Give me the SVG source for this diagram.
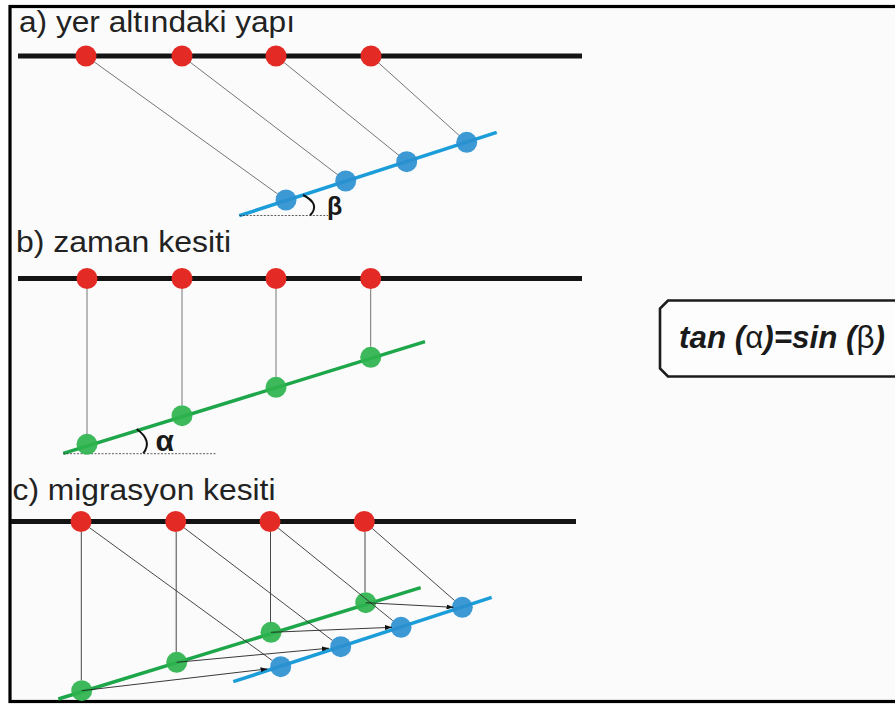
<svg xmlns="http://www.w3.org/2000/svg" width="895" height="704" viewBox="0 0 895 704">
<style>
.title{font-family:"Liberation Sans",Arial,sans-serif;font-size:29px;fill:#222}
.greek{font-family:"Liberation Sans",Arial,sans-serif;font-weight:bold;fill:#1a1a1a}
.ground{stroke:#141414;stroke-width:5;fill:none}
.bl{stroke:#1b9dd9;stroke-width:3.5;fill:none}
.gl{stroke:#1ea64a;stroke-width:3.5;fill:none}
.red{fill:#e42a24}
.blue{fill:#2b90d0;opacity:0.92}
.green{fill:#2db34d;opacity:0.92}
.ray{stroke:#666;stroke-width:0.9;fill:none}
.ray2{stroke:#333;stroke-width:0.9;fill:none}
.arr{stroke:#222;stroke-width:0.9;fill:none;marker-end:url(#ah)}
.dash{stroke:#333;stroke-width:0.8;stroke-dasharray:2 1.5;fill:none}
.arc{stroke:#111;stroke-width:2;fill:none}
</style>
<defs>
<marker id="ah" markerUnits="userSpaceOnUse" markerWidth="7" markerHeight="5" refX="7" refY="2.5" orient="auto">
<path d="M0,0 L7,2.5 L0,5 Z" fill="#111"/>
</marker>
</defs>
<rect x="0" y="0" width="895" height="704" fill="#ffffff"/>
<rect id="frame" x="10" y="6.5" width="900" height="695" fill="#fbfbfb" stroke="#000" stroke-width="3.2"/>

<!-- Panel a -->
<g id="panel-a">
<text class="title" x="19" y="32" textLength="276" lengthAdjust="spacingAndGlyphs">a) yer altındaki yapı</text>
<line class="ground" x1="18" y1="56" x2="582" y2="56"/>
<line class="bl" x1="239.3" y1="215.7" x2="496.7" y2="132.3"/>
<line class="dash" x1="239.3" y1="215.5" x2="328" y2="215.5"/>
<path class="arc" d="M303,195 Q321,204 310,215.5"/>
<text class="greek" x="327" y="215" font-size="25">β</text>
</g>
<g id="a-r1"><circle class="red" cx="86" cy="56" r="10.5"/></g>
<g id="a-r2"><circle class="red" cx="182" cy="56" r="10.5"/></g>
<g id="a-r3"><circle class="red" cx="276" cy="56" r="10.5"/></g>
<g id="a-r4"><circle class="red" cx="371" cy="56" r="10.5"/></g>
<g id="a-b1"><circle class="blue" cx="286" cy="200" r="10.5"/></g>
<g id="a-b2"><circle class="blue" cx="345.7" cy="181" r="10.5"/></g>
<g id="a-b3"><circle class="blue" cx="406.7" cy="161.7" r="10.5"/></g>
<g id="a-b4"><circle class="blue" cx="466.7" cy="142.3" r="10.5"/></g>

<!-- Panel b -->
<g id="panel-b">
<text class="title" x="16" y="252" textLength="215" lengthAdjust="spacingAndGlyphs">b) zaman kesiti</text>
<line class="ground" x1="18" y1="278.5" x2="582" y2="278.5"/>
<line class="gl" x1="63.3" y1="453.3" x2="425" y2="341.7"/>
<line class="dash" x1="63" y1="453.7" x2="217" y2="453.7"/>
<path class="arc" d="M136.7,429 Q153,441 143.3,453.3"/>
<text class="greek" x="155.5" y="450.5" font-size="30">α</text>
</g>
<g id="b-r1"><circle class="red" cx="87" cy="278.5" r="10.5"/></g>
<g id="b-r2"><circle class="red" cx="182" cy="278.5" r="10.5"/></g>
<g id="b-r3"><circle class="red" cx="276" cy="278.5" r="10.5"/></g>
<g id="b-r4"><circle class="red" cx="370.7" cy="278.5" r="10.5"/></g>
<g id="b-g1"><circle class="green" cx="87" cy="444.3" r="10.5"/></g>
<g id="b-g2"><circle class="green" cx="182" cy="415.7" r="10.5"/></g>
<g id="b-g3"><circle class="green" cx="276" cy="387.3" r="10.5"/></g>
<g id="b-g4"><circle class="green" cx="370.7" cy="357.3" r="10.5"/></g>

<!-- Panel c -->
<g id="panel-c">
<text class="title" x="12.5" y="500" textLength="263" lengthAdjust="spacingAndGlyphs">c) migrasyon kesiti</text>
<line class="ground" x1="11" y1="521.5" x2="576" y2="521.5"/>
<line class="gl" x1="58.3" y1="699" x2="420.7" y2="587.7"/>
<line class="bl" x1="233.3" y1="681.7" x2="491.7" y2="597.3"/>
</g>
<g id="c-r1"><circle class="red" cx="81" cy="521.5" r="10.5"/></g>
<g id="c-r2"><circle class="red" cx="175.7" cy="521.5" r="10.5"/></g>
<g id="c-r3"><circle class="red" cx="270" cy="521.5" r="10.5"/></g>
<g id="c-r4"><circle class="red" cx="364.3" cy="521.5" r="10.5"/></g>
<g id="c-g1"><circle class="green" cx="81.7" cy="690.7" r="10.5"/></g>
<g id="c-g2"><circle class="green" cx="176.7" cy="662.3" r="10.5"/></g>
<g id="c-g3"><circle class="green" cx="271" cy="632.3" r="10.5"/></g>
<g id="c-g4"><circle class="green" cx="365.7" cy="602.7" r="10.5"/></g>
<g id="c-b1"><circle class="blue" cx="280.7" cy="666.7" r="10.5"/></g>
<g id="c-b2"><circle class="blue" cx="340.7" cy="646.7" r="10.5"/></g>
<g id="c-b3"><circle class="blue" cx="401" cy="627.3" r="10.5"/></g>
<g id="c-b4"><circle class="blue" cx="462.3" cy="607.3" r="10.5"/></g>

<!-- Connectors -->
<g id="connectors">
<line class="ray" x1="94.1" y1="61.8" x2="277.9" y2="194.2"/>
<line class="ray" x1="190" y1="62.1" x2="337.8" y2="174.9"/>
<line class="ray" x1="283.8" y1="62.3" x2="398.9" y2="155.4"/>
<line class="ray" x1="378.4" y1="62.7" x2="459.3" y2="135.6"/>

<line class="ray" x1="87" y1="289" x2="87" y2="434"/>
<line class="ray" x1="182" y1="289" x2="182" y2="405.2"/>
<line class="ray" x1="276" y1="289" x2="276" y2="376.8"/>
<line class="ray" x1="370.7" y1="289" x2="370.7" y2="346.8"/>

<line class="ray2" x1="81.3" y1="532" x2="81.3" y2="680.2"/>
<line class="ray2" x1="176.2" y1="532" x2="176.2" y2="651.8"/>
<line class="ray2" x1="270.5" y1="532" x2="270.5" y2="621.8"/>
<line class="ray2" x1="365" y1="532" x2="365" y2="592.2"/>

<line class="ray2" x1="89.5" y1="527.7" x2="272.2" y2="660.5"/>
<line class="ray2" x1="184.1" y1="527.8" x2="332.3" y2="640.4"/>
<line class="ray2" x1="278.2" y1="528.1" x2="392.8" y2="620.7"/>
<line class="ray2" x1="372.2" y1="528.4" x2="454.4" y2="600.4"/>

<line class="arr" x1="81.7" y1="690.7" x2="267.5" y2="668.9"/>
<line class="arr" x1="176.7" y1="662.3" x2="329" y2="648.2"/>
<line class="arr" x1="271" y1="632.3" x2="392" y2="627.3"/>
<line class="arr" x1="365.7" y1="602.7" x2="453.5" y2="607.3"/>
</g>

<!-- Formula box -->
<g id="formula">
<path d="M668,300.5 L902,300.5 L902,376.5 L668,376.5 L660,368.5 L660,308.5 Z" fill="#fdfdfd" stroke="#1c1c1c" stroke-width="2.6"/>
<text x="679" y="348" font-family="Liberation Sans, Arial, sans-serif" font-size="31" fill="#1a1a1a" textLength="206" lengthAdjust="spacingAndGlyphs"><tspan font-weight="bold" font-style="italic">tan (</tspan><tspan>α</tspan><tspan font-weight="bold" font-style="italic">)=sin (</tspan><tspan>β</tspan><tspan font-weight="bold" font-style="italic">)</tspan></text>
</g>
</svg>
